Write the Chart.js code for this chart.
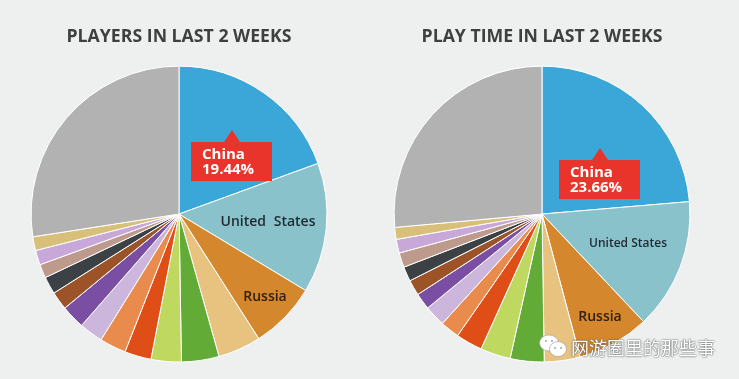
<!DOCTYPE html>
<html>
<head>
<meta charset="utf-8">
<script src="https://cdn.jsdelivr.net/npm/chart.js@4"></script>
<style>
  html, body { margin: 0; padding: 0; background: #eef0f0; overflow: hidden; }
  #wrap { position: relative; width: 739px; height: 379px; }
  .pie { position: absolute; top: 0; width: 358px; height: 379px; }
  #pieLeft { left: 0; }
  #pieRight { left: 363px; }
  #mark { position: absolute; left: 538px; top: 333px; height: 28px; }
  #mark svg { position: absolute; left: 0; top: 0; }
  #mark span {
    position: absolute; left: 33px; top: 0; white-space: nowrap;
    font: 18px/28px "Noto Sans CJK SC", sans-serif; color: #fff;
    text-shadow: 0 0 2px #555, 0 0 1px #555;
  }
</style>
</head>
<body>
<div id="wrap">
  <div class="pie" id="pieLeft"><canvas id="playersChart"></canvas></div>
  <div class="pie" id="pieRight"><canvas id="playTimeChart"></canvas></div>
  <div id="mark">
    <svg width="30" height="28" viewBox="0 0 30 28">
      <ellipse cx="11" cy="10" rx="9.5" ry="8" fill="#fff" stroke="#999" stroke-width="0.6"/>
      <ellipse cx="20" cy="16" rx="8.5" ry="7.5" fill="#fff" stroke="#999" stroke-width="0.6"/>
      <circle cx="8" cy="8" r="1.1" fill="#aaa"/>
      <circle cx="14" cy="8" r="1.1" fill="#aaa"/>
      <circle cx="17" cy="15" r="1" fill="#aaa"/>
      <circle cx="23" cy="15" r="1" fill="#aaa"/>
    </svg>
    <span>网游圈里的那些事</span>
  </div>
</div>
<script>
var titles = ['PLAYERS IN LAST 2 WEEKS', 'PLAY TIME IN LAST 2 WEEKS'];
var countries = ['China', 'United States', 'Russia', 'Country 4', 'Country 5', 'Country 6', 'Country 7', 'Country 8',
  'Country 9', 'Country 10', 'Country 11', 'Country 12', 'Country 13', 'Country 14', 'Country 15', 'Other'];
var playersShare = [19.44, 14.2, 7.3, 4.7, 4.1, 3.3, 2.9, 2.9, 2.6, 2.6, 2.0, 1.9, 1.5, 1.6, 1.5, 27.46];
var playTimeShare = [23.66, 14.3, 7.9, 3.9, 3.7, 3.3, 2.9, 2.1, 2.3, 1.8, 1.7, 1.6, 1.6, 1.5, 1.3, 26.44];
var colors = ['#3aa7d8', '#8ac2cc', '#d4872c', '#e8c27f', '#62ab37', '#bfd960', '#e04e17', '#ea8b4e',
  '#ccb6dc', '#7a4fa3', '#9c5328', '#3b4144', '#bd9a8b', '#c8a8d8', '#d8c07a', '#b3b2b2'];

var FONT = '"Open Sans", sans-serif';

// callout and country names, placed relative to the pie centre
var pieLabels = {
  id: 'pieLabels',
  afterDraw: function(chart, args, opts) {
    var ctx = chart.ctx;
    var arc = chart.getDatasetMeta(0).data[0];
    var cx = arc.x, cy = arc.y;
    var values = chart.data.datasets[0].data;
    var box = opts.box;

    ctx.save();
    ctx.fillStyle = '#e8342a';
    ctx.fillRect(cx + box.x, cy + box.y, 81, 39);
    ctx.beginPath();
    ctx.moveTo(cx + box.x + 33, cy + box.y);
    ctx.lineTo(cx + box.x + 41, cy + box.y - 12);
    ctx.lineTo(cx + box.x + 49, cy + box.y);
    ctx.closePath();
    ctx.fill();

    ctx.fillStyle = '#fff';
    ctx.font = 'bold 15px ' + FONT;
    ctx.textAlign = 'left';
    ctx.textBaseline = 'middle';
    ctx.fillText(chart.data.labels[0], cx + box.x + 11, cy + box.y + 13);
    ctx.fillText(values[0].toFixed(2) + '%', cx + box.x + 11, cy + box.y + 28);

    ctx.textAlign = 'center';
    opts.names.forEach(function(n) {
      ctx.fillStyle = n.color;
      ctx.font = '600 ' + n.size + 'px ' + FONT;
      ctx.wordSpacing = n.gap || '0px';
      ctx.fillText(chart.data.labels[n.index], cx + n.x, cy + n.y);
    });
    ctx.restore();
  }
};

function makePie(canvasId, title, values, labelOpts) {
  return new Chart(document.getElementById(canvasId), {
    type: 'pie',
    data: {
      labels: countries,
      datasets: [{
        data: values,
        backgroundColor: colors,
        borderColor: '#ffffff',
        borderWidth: 1
      }]
    },
    options: {
      responsive: true,
      maintainAspectRatio: false,
      animation: false,
      layout: { padding: { left: 30.5, right: 30.5, bottom: 16.5 } },
      plugins: {
        legend: { display: false },
        tooltip: { enabled: false },
        title: {
          display: true,
          text: title,
          color: '#3f3f3f',
          font: { family: FONT, size: 17.7, weight: 'bold', lineHeight: 1.25 },
          padding: { top: 26, bottom: 17.5 }
        },
        pieLabels: labelOpts
      }
    },
    plugins: [pieLabels]
  });
}

makePie('playersChart', titles[0], playersShare, {
  box: { x: 12, y: -72 },
  names: [
    { index: 1, x: 89, y: 8, size: 14, color: '#1f2a30', gap: '4px' },
    { index: 2, x: 86, y: 83, size: 14, color: '#33200c' }
  ]
});
makePie('playTimeChart', titles[1], playTimeShare, {
  box: { x: 17, y: -54 },
  names: [
    { index: 1, x: 86, y: 30, size: 12, color: '#1f2a30' },
    { index: 2, x: 58, y: 103, size: 14, color: '#33200c' }
  ]
});
</script>
</body>
</html>
